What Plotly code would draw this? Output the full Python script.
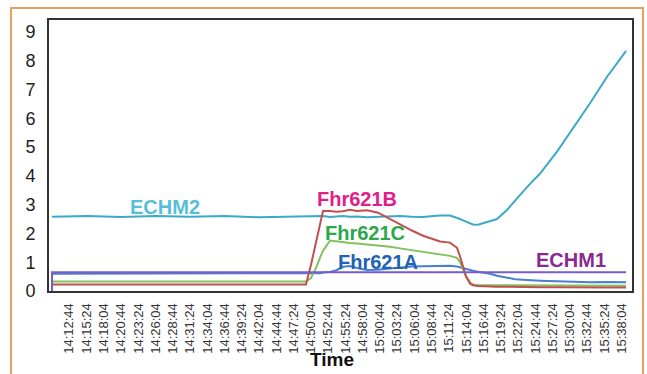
import plotly.graph_objects as go

DAY = "2024-01-01 "

# Sample times (HH:MM:SS)
times = [
    "14:10:04", "14:15:24", "14:20:44", "14:26:04", "14:31:24", "14:36:44", "14:42:04", "14:47:24",
    "14:49:18", "14:50:04", "14:50:51", "14:51:28", "14:51:56", "14:53:01", "14:54:00", "14:55:01",
    "14:56:06", "14:57:11", "14:58:44", "15:00:26", "15:02:17", "15:03:50", "15:05:40", "15:07:23",
    "15:09:00", "15:10:01", "15:11:33", "15:12:38", "15:13:06", "15:13:34", "15:14:02", "15:14:39",
    "15:15:06", "15:15:52", "15:16:39", "15:17:44", "15:18:49", "15:20:22", "15:21:36", "15:22:50",
    "15:23:55", "15:25:28", "15:28:05", "15:30:34", "15:33:11", "15:35:49", "15:38:45",
]

echm2 = [
    2.58, 2.60, 2.57, 2.60, 2.58, 2.60, 2.56, 2.58,
    2.58, 2.57, 2.59, 2.58, 2.60, 2.57, 2.58, 2.60,
    2.58, 2.59, 2.56, 2.57, 2.59, 2.60, 2.58, 2.57,
    2.60, 2.62, 2.62, 2.55, 2.50, 2.45, 2.40, 2.35,
    2.31, 2.30, 2.35, 2.42, 2.50, 2.82, 3.15, 3.45,
    3.72, 4.08, 4.84, 5.65, 6.52, 7.44, 8.34,
]

fhr621b = [
    0.23, 0.23, 0.23, 0.23, 0.23, 0.23, 0.23, 0.23,
    0.23, 0.90, 1.67, 2.29, 2.78, 2.78, 2.75, 2.77,
    2.82, 2.78, 2.80, 2.72, 2.50, 2.30, 2.10, 1.92,
    1.80, 1.72, 1.68, 1.50, 1.20, 0.85, 0.50, 0.25,
    0.20, 0.17, 0.16, 0.16, 0.15, 0.15, 0.14, 0.14,
    0.13, 0.13, 0.13, 0.12, 0.12, 0.12, 0.12,
]

fhr621c = [
    0.33, 0.33, 0.33, 0.33, 0.33, 0.33, 0.33, 0.33,
    0.33, 0.45, 0.80, 1.15, 1.40, 1.75, 1.72, 1.70,
    1.67, 1.65, 1.62, 1.58, 1.54, 1.48, 1.42, 1.37,
    1.30, 1.26, 1.22, 1.15, 1.00, 0.75, 0.50, 0.30,
    0.23, 0.20, 0.20, 0.19, 0.19, 0.19, 0.19, 0.18,
    0.18, 0.18, 0.18, 0.18, 0.18, 0.18, 0.18,
]

fhr621a = [
    0.60, 0.60, 0.60, 0.60, 0.60, 0.60, 0.60, 0.60,
    0.60, 0.60, 0.60, 0.62, 0.64, 0.66, 0.72, 0.84,
    0.87, 0.80, 0.73, 0.74, 0.78, 0.82, 0.85, 0.86,
    0.87, 0.88, 0.88, 0.85, 0.82, 0.78, 0.75, 0.72,
    0.70, 0.67, 0.64, 0.60, 0.53, 0.46, 0.41, 0.39,
    0.37, 0.36, 0.34, 0.32, 0.30, 0.31, 0.30,
]

echm1_times = ["14:10:04", "14:10:04", "15:38:45"]
echm1 = [0.0, 0.65, 0.65]

tick_labels = [
    "14:12:44", "14:15:24", "14:18:04", "14:20:44", "14:23:24", "14:26:04", "14:28:44",
    "14:31:24", "14:34:04", "14:36:44", "14:39:24", "14:42:04", "14:44:44", "14:47:24",
    "14:50:04", "14:52:44", "14:55:24", "14:58:04", "15:00:44", "15:03:24", "15:06:04",
    "15:08:44", "15:11:24", "15:14:04", "15:16:44", "15:19:24", "15:22:04", "15:24:44",
    "15:27:24", "15:30:04", "15:32:44", "15:35:24", "15:38:04",
]
y_ticks = [0, 1, 2, 3, 4, 5, 6, 7, 8, 9]

# label name, time, value, colour
labels = [
    ("ECHM2", "14:27:31", 2.92, "#56bfd8"),
    ("Fhr621B", "14:57:11", 3.21, "#e0208a"),
    ("Fhr621C", "14:58:25", 2.00, "#2aa84a"),
    ("Fhr621A", "15:00:26", 1.00, "#1f63b4"),
    ("ECHM1", "15:30:15", 1.06, "#8b2a8e"),
]

ts = [DAY + t for t in times]

fig = go.Figure()
fig.add_trace(go.Scatter(x=ts, y=echm2, mode="lines", line=dict(color="#3aaac8", width=2), name="ECHM2"))
fig.add_trace(go.Scatter(x=ts, y=fhr621a, mode="lines", line=dict(color="#4a7fd0", width=2), name="Fhr621A"))
fig.add_trace(go.Scatter(x=ts, y=fhr621c, mode="lines", line=dict(color="#82c160", width=2), name="Fhr621C"))
fig.add_trace(go.Scatter(x=ts, y=fhr621b, mode="lines", line=dict(color="#c0504d", width=2), name="Fhr621B"))
fig.add_trace(go.Scatter(x=[DAY + t for t in echm1_times], y=echm1, mode="lines",
                         line=dict(color="#7a5cc8", width=2), name="ECHM1"))

for text, t, v, c in labels:
    fig.add_annotation(x=DAY + t, y=v, xref="x", yref="y", text="<b>%s</b>" % text,
                       showarrow=False, xanchor="center", yanchor="middle",
                       font=dict(family="Arial", size=20, color=c))

fig.add_annotation(x=0.4854, y=-0.251, xref="paper", yref="paper", text="<b>Time</b>",
                   showarrow=False, xanchor="center", yanchor="middle",
                   font=dict(family="Arial", size=19, color="#111"))

# orange outer frame
fig.add_shape(type="rect", xref="paper", yref="paper", x0=-0.0652, x1=1.0189, y0=-0.34, y1=1.0443,
              line=dict(color="#e8a062", width=2), layer="below")

fig.update_layout(
    width=647, height=374,
    margin=dict(l=49, r=15, t=20, b=83),
    paper_bgcolor="white", plot_bgcolor="white",
    showlegend=False,
    font=dict(family="Arial"),
)
fig.update_xaxes(
    type="date",
    range=[DAY + "14:09:36", DAY + "15:39:40"],
    tickvals=[DAY + t for t in tick_labels],
    ticktext=tick_labels,
    tickangle=-90,
    tickfont=dict(family="Arial", size=13, color="#333"),
    showgrid=False, zeroline=False,
    showline=True, linecolor="#333", linewidth=2, mirror=True,
    ticks="", ticklabelstandoff=5,
)
fig.update_yaxes(
    range=[0, 9.41],
    tickvals=y_ticks,
    tickfont=dict(family="Arial", size=18, color="#222"),
    showgrid=False, zeroline=False,
    showline=True, linecolor="#333", linewidth=2, mirror=True,
    ticks="", ticklabelstandoff=8,
)

fig.write_html("out.html")
